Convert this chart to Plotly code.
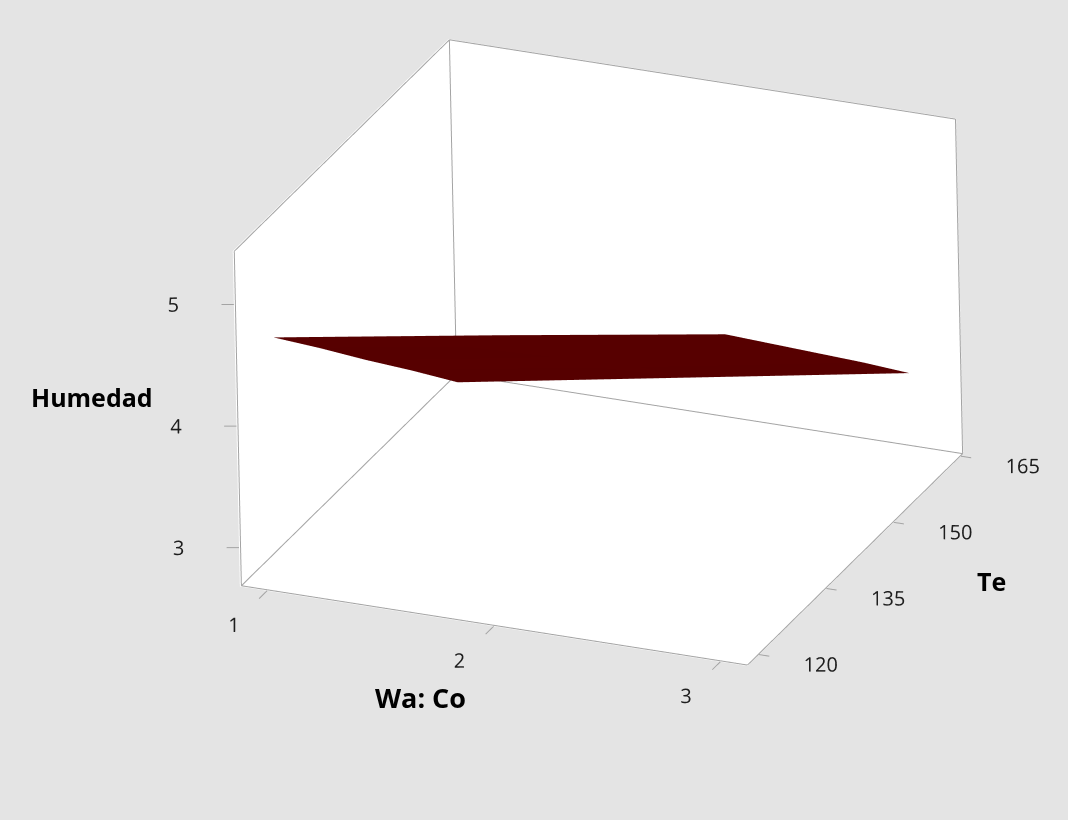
import plotly.graph_objects as go

# Fitted response surface: Humedad over Wa: Co and Te
wa_co = [1, 2, 3]
te = [120, 130, 140, 150, 160]
humedad = [
    [4.67, 4.98, 5.28],
    [4.22, 4.53, 4.84],
    [3.76, 4.08, 4.40],
    [3.31, 3.63, 3.96],
    [2.85, 3.18, 3.51],
]

wa_ticks = [1, 2, 3]
te_ticks = [120, 135, 150, 165]
hum_ticks = [3, 4, 5]

# Extents of the plotting box
wa_box = [0.88, 3.12]
te_box = [117.4, 165.5]
hum_box = [2.68, 5.44]

BG = "#e4e4e4"
EDGE = "#a4a4a4"
TXT = "#1e1e1e"
FONT = "Open Sans"
TICK_SIZE = 20
TITLE_SIZE = 25

x0, x1 = wa_box
y0, y1 = te_box
z0, z1 = hum_box
W, T, Z = x1 - x0, y1 - y0, z1 - z0

# Scene extends past the box so that tick labels outside it are not clipped
PAD = 0.2
scene_x = [x0 - PAD * W, x1 + PAD * W]
scene_y = [y0 - PAD * T, y1 + PAD * T]
scene_z = [z0 - PAD * Z, z1 + PAD * Z]
F = (1 + 2 * PAD) * 1.565

fig = go.Figure()

# White back walls: left wall, back wall, floor
wx = [x0, x0, x0, x0, x0, x1, x1, x0, x0, x1, x1, x0]
wy = [y0, y1, y1, y0, y1, y1, y1, y1, y0, y0, y1, y1]
wz = [z0, z0, z1, z1, z0, z0, z1, z1, z0, z0, z0, z0]
fig.add_trace(go.Mesh3d(
    x=wx, y=wy, z=wz,
    i=[0, 0, 4, 4, 8, 8], j=[1, 2, 5, 6, 9, 10], k=[2, 3, 6, 7, 10, 11],
    color="white", flatshading=True,
    lighting=dict(ambient=1, diffuse=0, specular=0, fresnel=0, roughness=1),
    hoverinfo="skip", showscale=False,
))

fig.add_trace(go.Surface(
    x=wa_co, y=te, z=humedad,
    colorscale=[[0, "#620000"], [1, "#620000"]],
    showscale=False,
    lighting=dict(ambient=0.85, diffuse=0.2, specular=0.6, roughness=0.25, fresnel=0.2),
    lightposition=dict(x=0, y=-1550, z=9880),
    hoverinfo="skip",
))

# Edges of the back walls, nudged inside so they sit in front of the walls
e = 0.003
ex0, ey1, ez0 = x0 + e * W, y1 - e * T, z0 + e * Z
segments = [
    ((ex0, y0, ez0), (ex0, y0, z1)),
    ((ex0, y0, z1), (ex0, ey1, z1)),
    ((ex0, ey1, ez0), (ex0, ey1, z1)),
    ((ex0, ey1, z1), (x1, ey1, z1)),
    ((x1, ey1, ez0), (x1, ey1, z1)),
    ((ex0, y0, ez0), (x1, y0, ez0)),
    ((x1, y0, ez0), (x1, ey1, ez0)),
    ((ex0, y0, ez0), (ex0, ey1, ez0)),
    ((ex0, ey1, ez0), (x1, ey1, ez0)),
]
# Tick marks
for v in hum_ticks:
    segments.append(((x0, y0, v), (x0 - 0.021 * W, y0 - 0.008 * T, v)))
for v in wa_ticks:
    segments.append(((v, y0, z0), (v, y0 - 0.037 * T, z0)))
for v in te_ticks:
    segments.append(((x1, v, z0), (x1 + 0.02 * W, v, z0)))

lx, ly, lz = [], [], []
for a, b in segments:
    lx += [a[0], b[0], None]
    ly += [a[1], b[1], None]
    lz += [a[2], b[2], None]
fig.add_trace(go.Scatter3d(
    x=lx, y=ly, z=lz, mode="lines",
    line=dict(color=EDGE, width=2),
    hoverinfo="skip", showlegend=False,
))

# Tick labels
tick_font = dict(family=FONT, size=TICK_SIZE, color=TXT)
fig.add_trace(go.Scatter3d(
    x=[x0 - 0.103 * W] * len(hum_ticks), y=[y0 - 0.039 * T] * len(hum_ticks), z=hum_ticks,
    mode="text", text=[str(v) for v in hum_ticks], textposition="middle center",
    textfont=tick_font, hoverinfo="skip", showlegend=False,
))
fig.add_trace(go.Scatter3d(
    x=wa_ticks, y=[y0 - 0.16 * T] * len(wa_ticks), z=[z0] * len(wa_ticks),
    mode="text", text=[str(v) for v in wa_ticks], textposition="middle center",
    textfont=tick_font, hoverinfo="skip", showlegend=False,
))
fig.add_trace(go.Scatter3d(
    x=[x1 + 0.122 * W] * len(te_ticks), y=te_ticks, z=[z0] * len(te_ticks),
    mode="text", text=[str(v) for v in te_ticks], textposition="middle center",
    textfont=tick_font, hoverinfo="skip", showlegend=False,
))

hidden = dict(visible=False, showspikes=False)
EYE = 3.0

fig.update_layout(
    width=1068, height=820,
    paper_bgcolor=BG,
    margin=dict(l=0, r=0, t=0, b=0),
    showlegend=False,
    scene=dict(
        domain=dict(x=[0.12, 1.0], y=[0.14, 1.0]),
        xaxis=dict(range=scene_x, **hidden),
        yaxis=dict(range=scene_y, **hidden),
        zaxis=dict(range=scene_z, **hidden),
        aspectmode="manual",
        aspectratio=dict(x=F, y=F, z=0.667 * F),
        camera=dict(
            eye=dict(x=0.364 * EYE, y=-0.836 * EYE, z=0.41 * EYE),
            up=dict(x=-0.144, y=0.384, z=0.912),
            center=dict(x=0, y=0, z=0),
            projection=dict(type="orthographic"),
        ),
        bgcolor=BG,
    ),
    annotations=[
        dict(text="<b>Humedad</b>", x=0.086, y=0.516, xref="paper", yref="paper",
             xanchor="center", yanchor="middle", showarrow=False,
             font=dict(family=FONT, size=TITLE_SIZE, color="black")),
        dict(text="<b>Wa: Co</b>", x=0.394, y=0.150, xref="paper", yref="paper",
             xanchor="center", yanchor="middle", showarrow=False,
             font=dict(family=FONT, size=TITLE_SIZE + 2, color="black")),
        dict(text="<b>Te</b>", x=0.928, y=0.292, xref="paper", yref="paper",
             xanchor="center", yanchor="middle", showarrow=False,
             font=dict(family=FONT, size=TITLE_SIZE, color="black")),
    ],
)

fig.write_html("out.html")
